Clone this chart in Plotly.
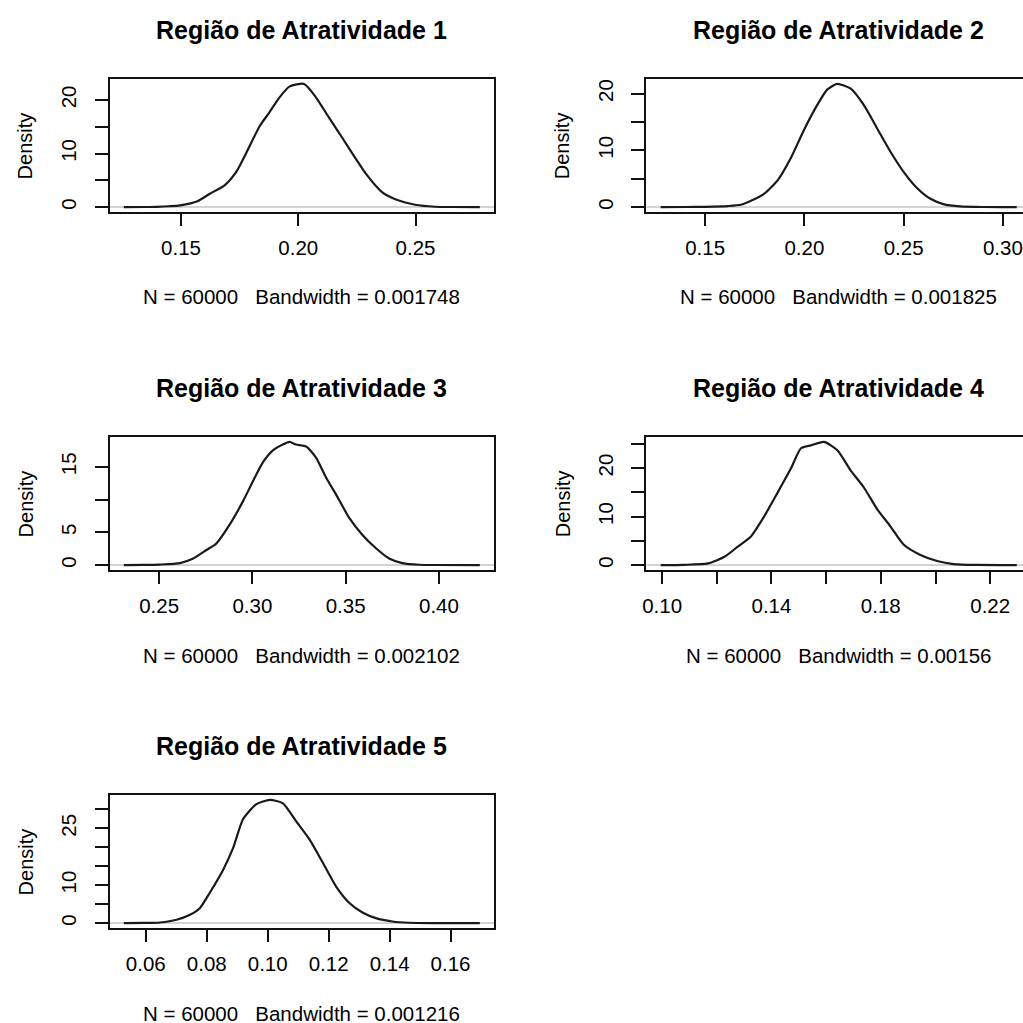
import plotly.graph_objects as go

# ---------------- data ----------------
titles = ["Região de Atratividade 1", "Região de Atratividade 2", "Região de Atratividade 3",
          "Região de Atratividade 4", "Região de Atratividade 5"]
subtitles = ["N = 60000   Bandwidth = 0.001748", "N = 60000   Bandwidth = 0.001825",
             "N = 60000   Bandwidth = 0.002102", "N = 60000   Bandwidth = 0.00156",
             "N = 60000   Bandwidth = 0.001216"]

x1 = [0.1256, 0.135, 0.1397, 0.1450, 0.1496, 0.157, 0.1623, 0.1687, 0.1736, 0.1778, 0.1835, 0.1877,
      0.192, 0.1962, 0.2025, 0.2075, 0.2131, 0.2188, 0.2244, 0.2287, 0.2357, 0.2414, 0.2498, 0.2583,
      0.265, 0.2774]
y1 = [0.0, 0.01, 0.04, 0.15, 0.32, 1.08, 2.5, 4.1, 6.6, 10.1, 15.1, 17.7,
      20.5, 22.5, 23.0, 20.5, 16.7, 12.9, 9.1, 6.3, 2.8, 1.45, 0.44, 0.06,
      0.01, 0.0]

x2 = [0.1276, 0.140, 0.150, 0.1614, 0.168, 0.1747, 0.1798, 0.1865, 0.1931, 0.1998, 0.2065, 0.2115,
      0.2165, 0.2232, 0.2299, 0.2366, 0.2433, 0.2500, 0.2566, 0.2633, 0.2700, 0.2784, 0.290, 0.307]
y2 = [0.0, 0.01, 0.05, 0.18, 0.4, 1.36, 2.37, 4.7, 8.6, 13.6, 18.0, 20.7,
      21.7, 20.9, 18.0, 13.9, 9.8, 6.2, 3.4, 1.5, 0.53, 0.12, 0.01, 0.0]

x3 = [0.2311, 0.242, 0.2505, 0.2612, 0.2683, 0.2754, 0.2807, 0.2879, 0.2950, 0.3003, 0.3057, 0.3110,
      0.3163, 0.3199, 0.3234, 0.3288, 0.3341, 0.3394, 0.3448, 0.3519, 0.3590, 0.3661, 0.3733, 0.3804,
      0.3893, 0.400, 0.4219]
y3 = [0.0, 0.02, 0.08, 0.3, 1.0, 2.3, 3.3, 6.2, 9.76, 12.8, 15.7, 17.5,
      18.4, 18.8, 18.4, 18.1, 16.4, 13.4, 10.8, 7.2, 4.6, 2.6, 1.0, 0.3,
      0.05, 0.01, 0.0]

x4 = [0.0995, 0.108, 0.1168, 0.1228, 0.1277, 0.1325, 0.1374, 0.1423, 0.1471, 0.1508, 0.1544, 0.1592,
      0.1641, 0.1690, 0.1738, 0.1787, 0.1835, 0.1884, 0.1945, 0.2006, 0.2066, 0.215, 0.2297]
y4 = [0.0, 0.05, 0.34, 1.7, 3.8, 5.9, 10.1, 15.0, 19.9, 24.1, 24.7, 25.4,
      23.7, 19.5, 16.0, 11.5, 8.0, 4.2, 2.1, 0.84, 0.2, 0.03, 0.0]

x5 = [0.0528, 0.060, 0.0647, 0.0701, 0.0745, 0.0778, 0.0810, 0.0854, 0.0887, 0.0919, 0.0963, 0.1007,
      0.1050, 0.1093, 0.1137, 0.1181, 0.1224, 0.1268, 0.1311, 0.1355, 0.1409, 0.1464, 0.155, 0.1696]
y5 = [0.0, 0.03, 0.16, 0.87, 2.2, 4.0, 8.0, 14.1, 19.9, 27.4, 31.4, 32.5,
      31.6, 26.9, 22.1, 15.9, 9.7, 5.3, 2.8, 1.3, 0.42, 0.08, 0.01, 0.0]

xtick_vals = [[0.15, 0.20, 0.25],
              [0.15, 0.20, 0.25, 0.30],
              [0.25, 0.30, 0.35, 0.40],
              [0.10, 0.12, 0.14, 0.16, 0.18, 0.20, 0.22],
              [0.06, 0.08, 0.10, 0.12, 0.14, 0.16]]
xtick_text = [["0.15", "0.20", "0.25"],
              ["0.15", "0.20", "0.25", "0.30"],
              ["0.25", "0.30", "0.35", "0.40"],
              ["0.10", "", "0.14", "", "0.18", "", "0.22"],
              ["0.06", "0.08", "0.10", "0.12", "0.14", "0.16"]]
ytick_vals = [[0, 5, 10, 15, 20],
              [0, 5, 10, 15, 20],
              [0, 5, 10, 15],
              [0, 5, 10, 15, 20, 25],
              [0, 5, 10, 15, 20, 25, 30]]
ytick_text = [["0", "", "10", "", "20"],
              ["0", "", "10", "", "20"],
              ["0", "5", "", "15"],
              ["0", "", "10", "", "20", ""],
              ["0", "", "10", "", "", "25", ""]]

xs = [x1, x2, x3, x4, x5]
ys = [y1, y2, y3, y4, y5]

# ---------------- layout (pixels) ----------------
W = H = 1023
FONT = "Liberation Sans, Arial, sans-serif"
BOX_W = 386
BOX_H = 133
col_left = [106, 645]
row_top = [79, 437, 795]
panel_pos = [(0, 0), (1, 0), (0, 1), (1, 1), (0, 2)]

fig = go.Figure()
annotations = []
shapes = []

for i in range(5):
    c, r = panel_pos[i]
    L = col_left[c]
    T = row_top[r]
    R = L + BOX_W
    B = T + BOX_H
    xa = "xaxis" if i == 0 else f"xaxis{i+1}"
    ya = "yaxis" if i == 0 else f"yaxis{i+1}"
    xr = "x" if i == 0 else f"x{i+1}"
    yr = "y" if i == 0 else f"y{i+1}"

    xmin, xmax = min(xs[i]), max(xs[i])
    ymin, ymax = min(ys[i]), max(ys[i])
    dx = xmax - xmin
    dy = ymax - ymin
    r0, r1 = xmin - 0.04 * dx, xmax + 0.04 * dx
    yr0, yr1 = ymin - 0.04 * dy, ymax + 0.04 * dy

    R_vis = min(R, W)
    r1_vis = r0 + (R_vis - L) / BOX_W * (r1 - r0)

    fig.add_trace(go.Scatter(x=xs[i], y=ys[i], mode="lines",
                             line=dict(color="#1a1a1a", width=2.2, shape="spline", smoothing=0.6),
                             xaxis=xr, yaxis=yr, showlegend=False, hoverinfo="skip"))

    common = dict(showline=True, linecolor="#111111", linewidth=2,
                  ticks="outside", tickcolor="#111111", tickwidth=2,
                  showgrid=False, zeroline=False,
                  tickfont=dict(family=FONT, size=20.5, color="black"))
    fig.layout[xa] = dict(domain=[L / W, R_vis / W], range=[r0, r1_vis], anchor=yr,
                          tickmode="array", tickvals=xtick_vals[i], ticktext=xtick_text[i],
                          ticklen=12, ticklabelstandoff=4, mirror=True, **common)
    fig.layout[ya] = dict(domain=[1 - B / H, 1 - T / H], range=[yr0, yr1], anchor=xr,
                          tickmode="array", tickvals=ytick_vals[i], ticktext=ytick_text[i],
                          ticklen=13, tickangle=-90, ticklabelstandoff=10,
                          mirror=(R <= W), **common)

    shapes.append(dict(type="line", xref=f"{xr} domain", yref=yr, x0=0, x1=1, y0=0, y1=0,
                       line=dict(color="#c4c4c4", width=1.5), layer="below"))

    cx = (L + R) / 2
    annotations.append(dict(text=f"<b>{titles[i]}</b>", xref="paper", yref="paper",
                            x=cx / W, y=1 - (T - 49) / H, xanchor="center", yanchor="middle",
                            showarrow=False, font=dict(family=FONT, size=25, color="black")))
    annotations.append(dict(text=subtitles[i], xref="paper", yref="paper",
                            x=cx / W, y=1 - (B + 85) / H, xanchor="center", yanchor="middle",
                            showarrow=False, font=dict(family=FONT, size=20.5, color="black")))
    annotations.append(dict(text="Density", xref="paper", yref="paper",
                            x=(L - 84) / W, y=1 - ((T + B) / 2) / H, xanchor="center", yanchor="middle",
                            textangle=-90, showarrow=False,
                            font=dict(family=FONT, size=20, color="black")))

fig.update_layout(width=W, height=H, margin=dict(l=0, r=0, t=0, b=0),
                  paper_bgcolor="white", plot_bgcolor="white",
                  annotations=annotations, shapes=shapes, showlegend=False)

fig.write_html("out.html", config={"displayModeBar": False},
               post_script="document.body.style.margin='0';document.body.style.padding='0';"
                           "document.body.style.overflow='hidden';"
                           "document.documentElement.style.overflow='hidden';")
